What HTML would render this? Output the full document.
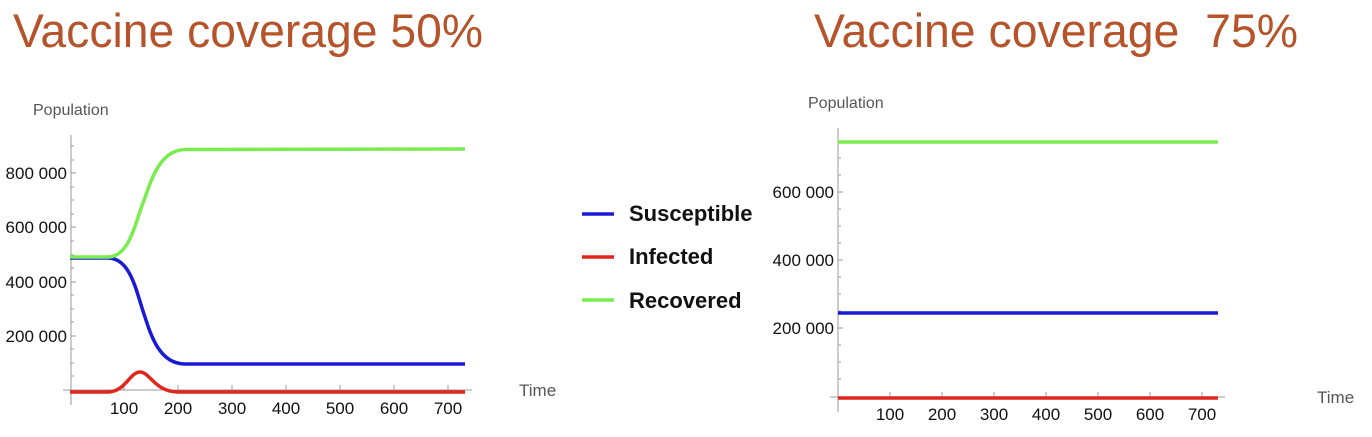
<!DOCTYPE html>
<html><head><meta charset="utf-8"><style>
body{margin:0;background:#fff;width:1372px;height:437px;overflow:hidden}
svg{display:block}
</style></head><body>
<svg width="1372" height="437" xmlns="http://www.w3.org/2000/svg" font-family="Liberation Sans, sans-serif">
<text x="13" y="47" font-size="47" fill="#b5532a" textLength="470" lengthAdjust="spacingAndGlyphs">Vaccine coverage 50%</text>
<text x="814" y="47" font-size="47" fill="#b5532a" textLength="484" lengthAdjust="spacingAndGlyphs" xml:space="preserve">Vaccine coverage  75%</text>

<!-- Left chart -->
<text x="33" y="115" font-size="16" fill="#555">Population</text>
<g stroke="#999" stroke-width="1">
<line x1="71" y1="135" x2="71" y2="405"/>
<line x1="63" y1="390" x2="472" y2="390"/>
<line x1="71" y1="173" x2="76" y2="173"/><line x1="71" y1="227" x2="76" y2="227"/>
<line x1="71" y1="282" x2="76" y2="282"/><line x1="71" y1="336" x2="76" y2="336"/>
<line x1="71" y1="146" x2="74" y2="146"/><line x1="71" y1="160" x2="74" y2="160"/><line x1="71" y1="187" x2="74" y2="187"/><line x1="71" y1="200" x2="74" y2="200"/><line x1="71" y1="214" x2="74" y2="214"/><line x1="71" y1="241" x2="74" y2="241"/><line x1="71" y1="255" x2="74" y2="255"/><line x1="71" y1="268" x2="74" y2="268"/><line x1="71" y1="295" x2="74" y2="295"/><line x1="71" y1="309" x2="74" y2="309"/><line x1="71" y1="322" x2="74" y2="322"/><line x1="71" y1="349" x2="74" y2="349"/><line x1="71" y1="363" x2="74" y2="363"/><line x1="71" y1="376" x2="74" y2="376"/>
<line x1="124" y1="390" x2="124" y2="385"/><line x1="178" y1="390" x2="178" y2="385"/><line x1="232" y1="390" x2="232" y2="385"/><line x1="286" y1="390" x2="286" y2="385"/><line x1="340" y1="390" x2="340" y2="385"/><line x1="394" y1="390" x2="394" y2="385"/><line x1="448" y1="390" x2="448" y2="385"/>
</g>
<g font-size="17" fill="#111" text-anchor="end">
<text x="67" y="179">800 000</text><text x="67" y="233">600 000</text><text x="67" y="288">400 000</text><text x="67" y="342">200 000</text>
</g>
<g font-size="17" fill="#111" text-anchor="middle">
<text x="124" y="414">100</text><text x="178" y="414">200</text><text x="232" y="414">300</text><text x="286" y="414">400</text><text x="340" y="414">500</text><text x="394" y="414">600</text><text x="448" y="414">700</text>
</g>
<text x="519" y="396" font-size="17" fill="#555">Time</text>
<g fill="none" stroke-width="3.5" stroke-linecap="butt">
<path d="M70,258 L108,258 C130,258 136,290 143,311 C150,332 158,364 185,364 L465,364" stroke="#1a1ad6"/>
<path d="M70,392 L108,392 C125,392 130,372 140,372 C150,372 155,392 178,392 L465,392" stroke="#e0261e"/>
<path d="M70,257 L108,257 C130,257 136,220 143,203 C150,185 158,150 185,149.5 L465,149" stroke="#7aec50"/>
</g>

<!-- Legend -->
<g stroke-width="3.5">
<line x1="582" y1="214" x2="614" y2="214" stroke="#1a1ad6"/>
<line x1="582" y1="257" x2="614" y2="257" stroke="#e0261e"/>
<line x1="582" y1="300" x2="614" y2="300" stroke="#7aec50"/>
</g>
<g font-size="22" font-weight="bold" fill="#111">
<text x="629" y="221">Susceptible</text><text x="629" y="264">Infected</text><text x="629" y="308">Recovered</text>
</g>

<!-- Right chart -->
<text x="808" y="108" font-size="16" fill="#555">Population</text>
<g stroke="#999" stroke-width="1">
<line x1="838" y1="128" x2="838" y2="412"/>
<line x1="830" y1="397" x2="1225" y2="397"/>
<line x1="838" y1="192" x2="843" y2="192"/><line x1="838" y1="260" x2="843" y2="260"/><line x1="838" y1="328" x2="843" y2="328"/>
<line x1="838" y1="158" x2="841" y2="158"/><line x1="838" y1="175" x2="841" y2="175"/><line x1="838" y1="141" x2="841" y2="141"/><line x1="838" y1="209" x2="841" y2="209"/><line x1="838" y1="226" x2="841" y2="226"/><line x1="838" y1="243" x2="841" y2="243"/><line x1="838" y1="277" x2="841" y2="277"/><line x1="838" y1="294" x2="841" y2="294"/><line x1="838" y1="311" x2="841" y2="311"/><line x1="838" y1="345" x2="841" y2="345"/><line x1="838" y1="362" x2="841" y2="362"/><line x1="838" y1="379" x2="841" y2="379"/>
<line x1="890" y1="397" x2="890" y2="392"/><line x1="942" y1="397" x2="942" y2="392"/><line x1="994" y1="397" x2="994" y2="392"/><line x1="1046" y1="397" x2="1046" y2="392"/><line x1="1098" y1="397" x2="1098" y2="392"/><line x1="1150" y1="397" x2="1150" y2="392"/><line x1="1202" y1="397" x2="1202" y2="392"/>
</g>
<g font-size="17" fill="#111" text-anchor="end">
<text x="834" y="198">600 000</text><text x="834" y="266">400 000</text><text x="834" y="334">200 000</text>
</g>
<g font-size="17" fill="#111" text-anchor="middle">
<text x="890" y="420">100</text><text x="942" y="420">200</text><text x="994" y="420">300</text><text x="1046" y="420">400</text><text x="1098" y="420">500</text><text x="1150" y="420">600</text><text x="1202" y="420">700</text>
</g>
<text x="1317" y="403" font-size="17" fill="#555">Time</text>
<g stroke-width="3.5">
<line x1="838" y1="142" x2="1218" y2="142" stroke="#7aec50"/>
<line x1="838" y1="313" x2="1218" y2="313" stroke="#1a1ad6"/>
<line x1="838" y1="398" x2="1218" y2="398" stroke="#e0261e"/>
</g>
</svg>
</body></html>
